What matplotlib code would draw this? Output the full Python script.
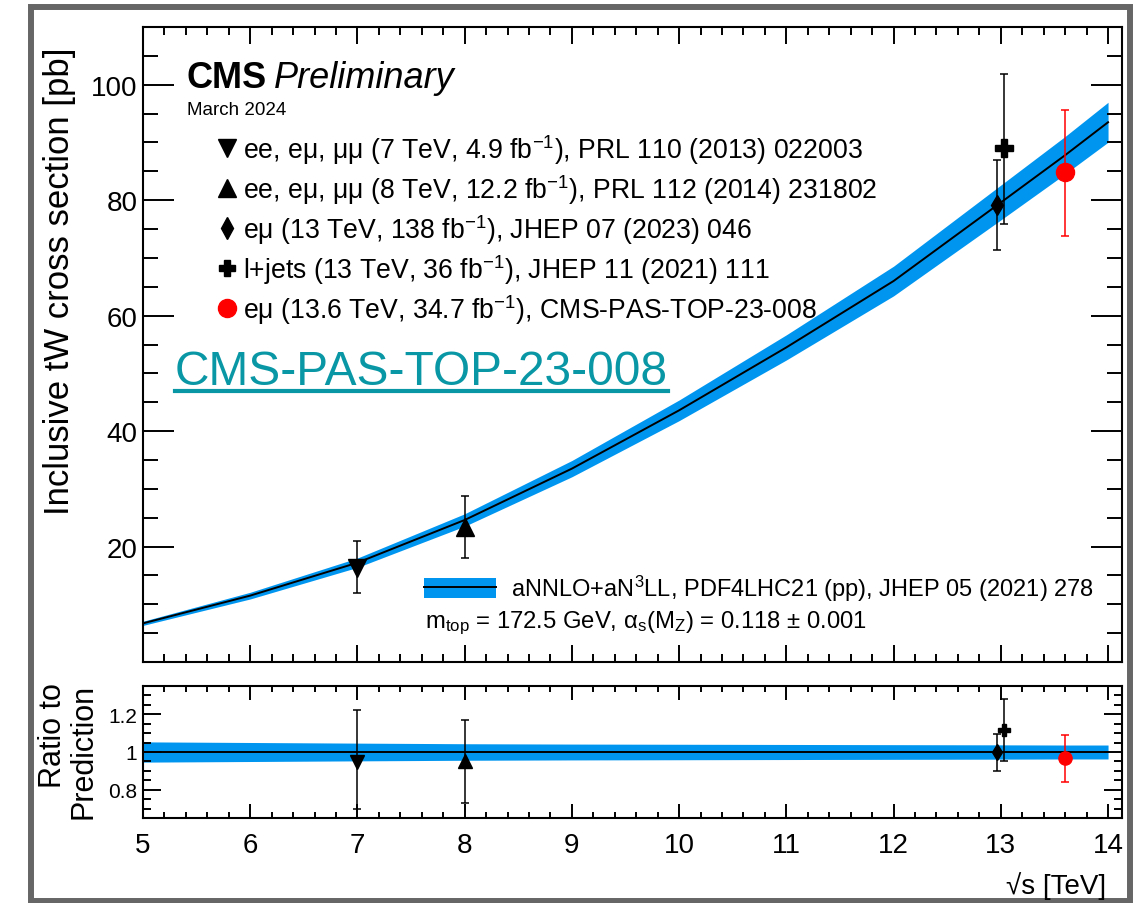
import numpy as np
import matplotlib
matplotlib.use("Agg")
import matplotlib.pyplot as plt
from matplotlib.lines import Line2D
from matplotlib.patches import Patch, Rectangle
from matplotlib.ticker import MultipleLocator, FixedLocator, FuncFormatter

plt.rcParams['font.family'] = ['Liberation Sans', 'DejaVu Sans']
plt.rcParams['mathtext.fontset'] = 'custom'
plt.rcParams['mathtext.rm'] = 'Liberation Sans'
plt.rcParams['mathtext.it'] = 'Liberation Sans:italic'
plt.rcParams['mathtext.bf'] = 'Liberation Sans:bold'

# aNNLO+aN3LL prediction
th_energy = [5, 6, 7, 8, 9, 10, 11, 12, 13, 13.6, 14]
th_xsec = [6.7, 11.5, 17.2, 24.6, 33.5, 43.6, 54.5, 66.0, 79.6, 87.8, 93.5]
th_unc = [0.36, 0.58, 0.81, 1.08, 1.41, 1.79, 2.18, 2.57, 3.02, 3.25, 3.46]

# CMS measurements
meas_labels = [
    r"ee, eμ, μμ (7 TeV, 4.9 fb$^{-1}$), PRL 110 (2013) 022003",
    r"ee, eμ, μμ (8 TeV, 12.2 fb$^{-1}$), PRL 112 (2014) 231802",
    r"eμ (13 TeV, 138 fb$^{-1}$), JHEP 07 (2023) 046",
    r"l+jets (13 TeV, 36 fb$^{-1}$), JHEP 11 (2021) 111",
    r"eμ (13.6 TeV, 34.7 fb$^{-1}$), CMS-PAS-TOP-23-008",
]
meas_energy = [7.0, 8.0, 12.96, 13.03, 13.6]
meas_xsec = [16.3, 23.4, 79.2, 89.0, 84.9]
meas_err_up = [4.7, 5.4, 7.7, 12.9, 10.8]
meas_err_down = [4.3, 5.4, 7.9, 13.1, 11.1]
pred_at_meas = [17.2, 24.6, 79.4, 79.6, 87.8]

y_major = [20, 40, 60, 80, 100]

# styles
markers = ['v', '^', 'd', 'P', 'o']
colors = ['k', 'k', 'k', 'k', 'red']
ms_main = [13, 13, 10, 13, 13]
ms_ratio = [9.5, 9.5, 8, 9, 9.5]
ms_leg = [13, 13, 11, 12, 13]
band_col = '#0096f0'
link_col = '#0a97a5'

W, H = 1137, 904


def fx(px):
    return px / W


def fy(py):
    return 1 - py / H


fig = plt.figure(figsize=(W / 100, H / 100), dpi=100)
ax = fig.add_axes([fx(143), fy(663), (1122 - 143) / W, (663 - 28) / H])
axr = fig.add_axes([fx(143), fy(819), (1122 - 143) / W, (819 - 687) / H])

th_e = np.array(th_energy)
th_x = np.array(th_xsec)
th_u = np.array(th_unc)

# main panel
ax.fill_between(th_e, th_x - th_u, th_x + th_u, color=band_col, lw=0)
ax.plot(th_e, th_x, color='k', lw=1.4)
for i in range(len(meas_energy)):
    ax.errorbar([meas_energy[i]], [meas_xsec[i]],
                yerr=[[meas_err_down[i]], [meas_err_up[i]]],
                fmt=markers[i], color=colors[i], ms=ms_main[i],
                elinewidth=1.1, capsize=3, capthick=1.1)

ax.set_xlim(5, 14.13)
ax.set_ylim(0, 110)
ax.yaxis.set_major_locator(FixedLocator(y_major))
ax.yaxis.set_minor_locator(MultipleLocator(5))
ax.xaxis.set_major_locator(MultipleLocator(1))
ax.xaxis.set_minor_locator(MultipleLocator(0.2))
ax.tick_params(axis='both', which='both', direction='in', top=True, right=True,
               width=1.4, labelbottom=False)
ax.tick_params(axis='y', which='major', length=22, labelsize=20, pad=4)
ax.tick_params(axis='y', which='minor', length=11)
ax.tick_params(axis='x', which='major', length=12)
ax.tick_params(axis='x', which='minor', length=5.5)
for s in ax.spines.values():
    s.set_linewidth(1.5)

# ratio panel
ratio = np.array(meas_xsec) / np.array(pred_at_meas)
r_up = np.array(meas_err_up) / np.array(pred_at_meas)
r_dn = np.array(meas_err_down) / np.array(pred_at_meas)
rel = th_u / th_x
axr.fill_between(th_e, 1 - rel, 1 + rel, color=band_col, lw=0)
axr.plot(th_e, np.ones_like(th_e), color='k', lw=1.4)
for i in range(len(meas_energy)):
    axr.errorbar([meas_energy[i]], [ratio[i]], yerr=[[r_dn[i]], [r_up[i]]],
                 fmt=markers[i], color=colors[i], ms=ms_ratio[i],
                 elinewidth=1.1, capsize=3, capthick=1.1)
axr.set_xlim(5, 14.13)
axr.set_ylim(0.65, 1.35)
axr.yaxis.set_major_locator(MultipleLocator(0.2))
axr.yaxis.set_minor_locator(MultipleLocator(0.05))
axr.yaxis.set_major_formatter(FuncFormatter(lambda v, p: f"{v:g}"))
axr.xaxis.set_major_locator(MultipleLocator(1))
axr.xaxis.set_minor_locator(MultipleLocator(0.2))
axr.tick_params(axis='both', which='both', direction='in', top=True, right=True, width=1.4)
axr.tick_params(axis='y', which='major', length=13, labelsize=15, pad=4)
axr.tick_params(axis='y', which='minor', length=6)
axr.tick_params(axis='x', which='major', length=10, labelsize=20, pad=10)
axr.tick_params(axis='x', which='minor', length=4.5)
for s in axr.spines.values():
    s.set_linewidth(1.5)

# axis titles
fig.text(fx(60), fy(281), "Inclusive tW cross section [pb]", rotation=90,
         ha='center', va='center', fontsize=25)
fig.text(fx(68), fy(751), "Ratio to\nPrediction", rotation=90, ha='center',
         va='center', fontsize=22, multialignment='right', linespacing=1.0)
fig.text(fx(1106), fy(894), "√s [TeV]", ha='right', va='baseline', fontsize=20)

# CMS label
fig.text(fx(187), fy(88), "CMS", fontsize=26, fontweight='bold', va='baseline')
fig.text(fx(274), fy(88), "Preliminary", fontsize=26, fontstyle='italic', va='baseline')
fig.text(fx(187), fy(115), "March 2024", fontsize=13.5, va='baseline')

# measurement legend
handles = [Line2D([], [], ls='none', marker=markers[i], color=colors[i], ms=ms_leg[i])
           for i in range(len(meas_labels))]
leg = fig.legend(handles, meas_labels, loc='upper left',
                 bbox_to_anchor=(fx(216), fy(133)), frameon=False, fontsize=19.2,
                 handlelength=0.8, handletextpad=0.2, labelspacing=0.23,
                 borderpad=0, borderaxespad=0)

# theory legend
th_handle = (Patch(facecolor=band_col, lw=0), Line2D([], [], color='k', lw=1.4))
fig.legend([th_handle], ["aNNLO+aN$^{3}$LL, PDF4LHC21 (pp), JHEP 05 (2021) 278"],
           loc='upper left', bbox_to_anchor=(fx(424), fy(574)), frameon=False,
           fontsize=17, handlelength=3.05, handleheight=0.98, handletextpad=0.62,
           borderpad=0, borderaxespad=0)
fig.text(fx(425), fy(628), r"m$_{\mathrm{top}}$ = 172.5 GeV, α$_{\mathrm{s}}$(M$_{\mathrm{Z}}$) = 0.118 ± 0.001",
         fontsize=17.2, va='baseline')

# link overlay
fig.text(fx(175), fy(385), "CMS-PAS-TOP-23-008", fontsize=34.5, color=link_col, va='baseline')
fig.add_artist(Line2D([fx(175), fx(668)], [fy(392), fy(392)], transform=fig.transFigure,
                      color=link_col, lw=3))

# outer frame
fig.add_artist(Rectangle((fx(30.5), fy(902)), (1130 - 30.5) / W, (902 - 8) / H,
                         transform=fig.transFigure, fill=False, edgecolor='#666666', lw=4.3))

fig.savefig("out.png", dpi=100)
